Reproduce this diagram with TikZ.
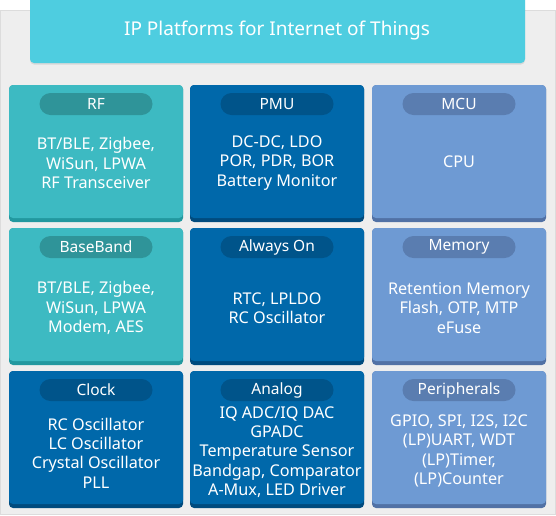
\documentclass[tikz,border=0pt]{standalone}
\usepackage{fontspec}
\setmainfont{Noto Sans}
\usetikzlibrary{shadows}
\definecolor{bgc}{HTML}{EEEEEE}
\definecolor{bgline}{HTML}{DCDCDC}
\definecolor{titlec}{HTML}{4ECDE0}
\definecolor{tealmain}{HTML}{3DBAC2}
\definecolor{tealdark}{HTML}{22989F}
\definecolor{tealpill}{HTML}{2F9499}
\definecolor{bluemain}{HTML}{0068AA}
\definecolor{bluedark}{HTML}{004B7E}
\definecolor{bluepill}{HTML}{00548A}
\definecolor{litemain}{HTML}{6E9AD3}
\definecolor{litedark}{HTML}{5171A5}
\definecolor{litepill}{HTML}{5A7DB0}
\tikzset{
  pill/.style={rounded corners=11pt, minimum width=113pt, minimum height=22pt, inner sep=0pt, text=white, font=\fontsize{15.5}{18}\selectfont},
  bodytext/.style={align=center, text=white, inner sep=0pt, font=\fontsize{16.2}{19.3}\selectfont},
  titletext/.style={text=white, inner sep=0pt, font=\fontsize{19}{22}\selectfont}
}
\newcommand\ipcard[7]{%
  \fill[#4dark, rounded corners=4pt] (#2,#3) rectangle ++(174,137);
  \fill[#4main, rounded corners=4pt] (#2,#3) rectangle ++(174,133);
  \node[pill, fill=#4pill] (#1-pill) at (#2+87,#3+19) {#5};
  \node[bodytext] (#1-body) at (#2+87,#3+#7) {#6};
}
\begin{document}
\begin{tikzpicture}[x=1pt,y=-1pt]
\useasboundingbox (0,0) rectangle (556,515);
\fill[bgc, draw=bgline] (0.5,10.5) rectangle (555.5,514.5);
\fill[titlec, rounded corners=4pt, drop shadow={opacity=0.2, shadow xshift=0pt, shadow yshift=-1.5pt}] (30,-10) rectangle (525,63);
\node[titletext] (title) at (277,31) {IP Platforms for Internet of Things};
\ipcard{rf}{9}{85}{teal}{RF}{BT/BLE, Zigbee,\\WiSun, LPWA\\RF Transceiver}{78}
\ipcard{pmu}{190}{85}{blue}{PMU}{DC-DC, LDO\\POR, PDR, BOR\\Battery Monitor}{78}
\ipcard{mcu}{372}{85}{lite}{MCU}{CPU}{77}
\ipcard{bb}{9}{228}{teal}{BaseBand}{BT/BLE, Zigbee,\\WiSun, LPWA\\Modem, AES}{80}
\ipcard{ao}{190}{228}{blue}{Always On}{RTC, LPLDO\\RC Oscillator}{80}
\ipcard{mem}{372}{228}{lite}{Memory}{Retention Memory\\Flash, OTP, MTP\\eFuse}{80}
\ipcard{clk}{9}{371}{blue}{Clock}{RC Oscillator\\LC Oscillator\\Crystal Oscillator\\PLL}{82}
\ipcard{ana}{190}{371}{blue}{Analog}{IQ ADC/IQ DAC\\GPADC\\Temperature Sensor\\Bandgap, Comparator\\A-Mux, LED Driver}{81}
\ipcard{per}{372}{371}{lite}{Peripherals}{GPIO, SPI, I2S, I2C\\(LP)UART, WDT\\(LP)Timer,\\(LP)Counter}{80}
\end{tikzpicture}
\end{document}
